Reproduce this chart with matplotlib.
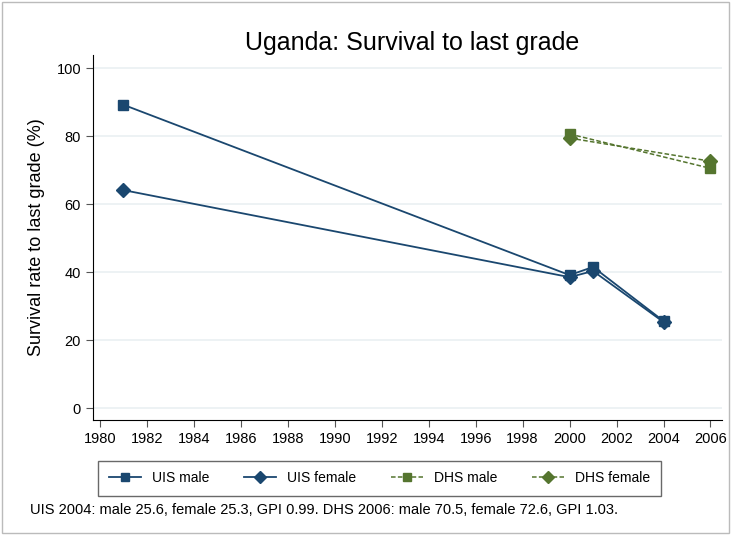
import matplotlib.pyplot as plt
from matplotlib.patches import Rectangle

uis_years = [1981, 2000, 2001, 2004]
uis_male = [89.2, 39.1, 41.5, 25.6]
uis_female = [64.1, 38.5, 40.3, 25.3]
dhs_years = [2000, 2006]
dhs_male = [80.6, 70.5]
dhs_female = [79.4, 72.6]

navy = '#1a476f'
green = '#55752f'

plt.rcParams['font.family'] = ['Liberation Sans', 'DejaVu Sans']

fig = plt.figure(figsize=(7.31, 5.35), dpi=100)
ax = fig.add_axes([0.127, 0.215, 0.861, 0.682])

ax.plot(uis_years, uis_male, color=navy, lw=1.3, marker='s', ms=7, label='UIS male')
ax.plot(uis_years, uis_female, color=navy, lw=1.3, marker='D', ms=7, label='UIS female')
ax.plot(dhs_years, dhs_male, color=green, lw=1.1, ls=(0, (3, 1.5)), marker='s', ms=7, label='DHS male')
ax.plot(dhs_years, dhs_female, color=green, lw=1.1, ls=(0, (3, 1.5)), marker='D', ms=7, label='DHS female')

ax.set_xlim(1979.7, 2006.5)
ax.set_ylim(-3.5, 103.8)
ax.set_xticks(range(1980, 2007, 2))
ax.set_yticks(range(0, 101, 20))
ax.tick_params(labelsize=10.5, length=5, color='#555555')
ax.grid(axis='y', color='#eaf0f2', lw=1.2)
ax.set_axisbelow(True)
for s in ['top', 'right']:
    ax.spines[s].set_visible(False)
ax.set_ylabel('Survival rate to last grade (%)', fontsize=13, labelpad=8)
ax.set_title('Uganda: Survival to last grade', fontsize=18, x=0.508, pad=4)

handles, labels = ax.get_legend_handles_labels()
fig.legend(handles, labels, loc='center', bbox_to_anchor=(0.519, 0.106), ncol=4,
           fontsize=10, frameon=True, fancybox=False, edgecolor='#444444',
           handlelength=2.3, columnspacing=2.5, borderpad=0.75, handletextpad=0.8,
           markerscale=0.85)

fig.text(0.041, 0.040, 'UIS 2004: male 25.6, female 25.3, GPI 0.99. DHS 2006: male 70.5, female 72.6, GPI 1.03.',
         fontsize=10.5)
fig.patches.append(Rectangle((0.003, 0.003), 0.994, 0.994, transform=fig.transFigure,
                             fill=False, edgecolor='#bbbbbb', lw=1))

fig.savefig('out.png', dpi=100)
